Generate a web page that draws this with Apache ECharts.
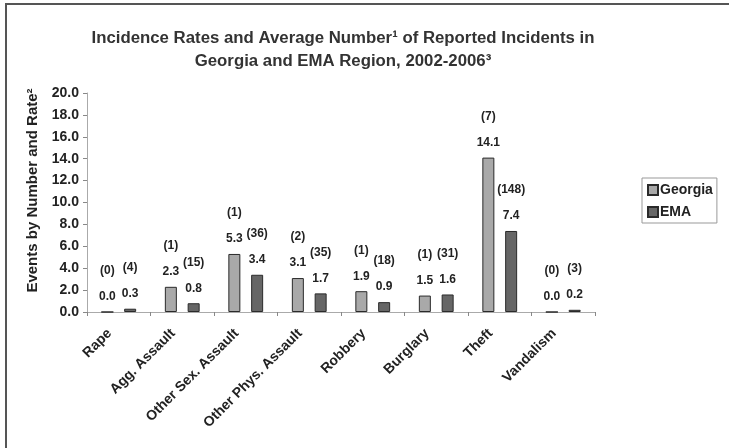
<!DOCTYPE html>
<html>
<head>
<meta charset="utf-8">
<script src="https://cdn.jsdelivr.net/npm/echarts@6/dist/echarts.min.js"></script>
<style>
  html, body { margin: 0; padding: 0; background: #fff; }
  #wrap { position: absolute; left: 5px; top: 3px; width: 724px; height: 445px;
          border-top: 2px solid #555; border-left: 2px solid #555; }
  #main { position: absolute; left: -7px; top: -5px; width: 729px; height: 448px; }
</style>
</head>
<body>
<div id="wrap"><div id="main"></div></div>
<script>
// categories and values
const categories = ['Rape', 'Agg. Assault', 'Other Sex. Assault', 'Other Phys. Assault',
  'Robbery', 'Burglary', 'Theft', 'Vandalism'];
const georgiaRate = [0.0, 2.3, 5.3, 3.1, 1.9, 1.5, 14.1, 0.0];
const emaRate = [0.3, 0.8, 3.4, 1.7, 0.9, 1.6, 7.4, 0.2];
const georgiaCount = [0, 1, 1, 2, 1, 1, 7, 0];
const emaCount = [4, 15, 36, 35, 18, 31, 148, 3];

const font = '"Liberation Sans", Arial, sans-serif';
const txt = '#222';

function barLabel(counts) {
  return {
    show: true,
    position: 'top',
    distance: 2,
    fontFamily: font,
    fontWeight: 'bold',
    fontSize: 12,
    color: txt,
    lineHeight: 26,
    formatter: p => '(' + counts[p.dataIndex] + ')\n' + p.value.toFixed(1)
  };
}

const chart = echarts.init(document.getElementById('main'));
chart.setOption({
  animation: false,
  title: {
    text: 'Incidence Rates and Average Number\u00b9 of Reported Incidents in\nGeorgia and EMA Region, 2002-2006\u00b3',
    left: 338,
    top: 22,
    textAlign: 'center',
    textStyle: { fontFamily: font, fontWeight: 'bold', fontSize: 16.8, color: '#333', lineHeight: 23 }
  },
  legend: {
    orient: 'vertical',
    left: 642,
    top: 178,
    padding: [5, 4, 4, 5],
    itemGap: 8,
    itemWidth: 10,
    itemHeight: 10,
    borderColor: '#999',
    borderWidth: 1,
    textStyle: { fontFamily: font, fontWeight: 'bold', fontSize: 14, color: txt, padding: [0, 0, 0, -3] },
    data: [
      { name: 'Georgia', icon: 'rect' },
      { name: 'EMA', icon: 'rect' }
    ]
  },
  grid: { left: 87, right: 134, top: 93, bottom: 136 },
  xAxis: {
    type: 'category',
    data: categories,
    axisLine: { lineStyle: { color: '#aaa', width: 1 } },
    axisTick: { show: true, length: 4, lineStyle: { color: '#888' } },
    axisLabel: {
      rotate: 45,
      margin: 10,
      padding: [0, 13, 0, 0],
      interval: 0,
      fontFamily: font,
      fontWeight: 'bold',
      fontSize: 14,
      color: txt
    }
  },
  yAxis: {
    type: 'value',
    min: 0,
    max: 20,
    interval: 2,
    name: 'Events by Number and Rate\u00b2',
    nameLocation: 'middle',
    nameGap: 47,
    nameTextStyle: { fontFamily: font, fontWeight: 'bold', fontSize: 15, color: txt, padding: [0, 0, 0, 24] },
    splitLine: { show: false },
    axisLine: { show: true, lineStyle: { color: '#aaa' } },
    axisTick: { show: true, length: 4, lineStyle: { color: '#888' } },
    axisLabel: {
      margin: 8,
      fontFamily: font,
      fontWeight: 'bold',
      fontSize: 14,
      color: txt,
      formatter: v => v.toFixed(1)
    }
  },
  series: [
    {
      name: 'Georgia',
      type: 'bar',
      data: georgiaRate,
      barWidth: 12,
      barGap: '90%',
      itemStyle: { color: '#a9a9a9', borderColor: '#2a2a2a', borderWidth: 1 },
      label: barLabel(georgiaCount)
    },
    {
      name: 'EMA',
      type: 'bar',
      data: emaRate,
      barWidth: 12,
      barGap: '90%',
      itemStyle: { color: '#666666', borderColor: '#2a2a2a', borderWidth: 1 },
      label: barLabel(emaCount)
    }
  ]
});
</script>
</body>
</html>
